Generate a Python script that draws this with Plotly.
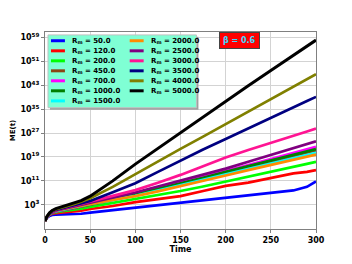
import numpy as np
import plotly.graph_objects as go

# ---- data (log10 of ME(t)) ----
time = [0, 2, 5, 8, 12, 20, 30, 40, 50, 75, 100, 125, 150, 175, 200, 225, 250, 275, 290, 300]

rm_values = [50.0, 120.0, 200.0, 450.0, 700.0, 1000.0, 1500.0,
             2000.0, 2500.0, 3000.0, 3500.0, 4000.0, 5000.0]

log_me_50 = [-2.4, -1.4, -0.7, -0.4, -0.3, -0.2, -0.1, 0.0, 0.4, 1.2, 2.0, 2.8, 3.6, 4.5, 5.3, 6.1, 6.9, 7.8, 9.0, 10.8]
log_me_120 = [-2.4, -1.3, -0.4, 0.0, 0.2, 0.4, 0.7, 1.0, 1.6, 2.6, 3.9, 4.8, 5.9, 7.6, 9.3, 10.4, 12.0, 13.5, 14.0, 14.6]
log_me_200 = [-2.4, -1.2, -0.3, 0.2, 0.5, 0.8, 1.2, 1.7, 2.3, 3.6, 5.0, 6.3, 7.6, 9.1, 10.7, 12.3, 14.0, 15.7, 16.7, 17.4]
log_me_450 = [-2.4, -1.2, -0.2, 0.3, 0.7, 1.1, 1.7, 2.3, 3.0, 4.6, 6.3, 8.1, 9.9, 11.8, 13.7, 15.6, 17.5, 19.4, 20.5, 21.2]
log_me_700 = [-2.4, -1.2, -0.2, 0.4, 0.8, 1.2, 1.8, 2.5, 3.2, 4.9, 6.6, 8.5, 10.4, 12.3, 14.3, 16.3, 18.3, 20.4, 21.6, 22.4]
log_me_1000 = [-2.4, -1.1, -0.1, 0.5, 0.9, 1.3, 1.9, 2.6, 3.3, 4.9, 6.5, 8.3, 10.1, 12.0, 14.0, 15.9, 17.8, 19.7, 20.9, 21.6]
log_me_1500 = [-2.4, -1.1, -0.1, 0.5, 0.9, 1.4, 2.0, 2.7, 3.3, 4.6, 6.0, 7.8, 9.6, 11.4, 13.3, 15.1, 17.0, 18.8, 19.8, 20.4]
log_me_2000 = [-2.4, -1.1, 0.0, 0.6, 1.0, 1.5, 2.1, 2.7, 3.3, 4.6, 5.9, 7.5, 9.2, 11.0, 12.8, 14.6, 16.4, 18.2, 19.3, 19.8]
log_me_2500 = [-2.4, -1.1, 0.0, 0.6, 1.1, 1.6, 2.3, 3.0, 3.6, 5.3, 7.1, 9.1, 11.1, 13.1, 15.1, 17.4, 19.7, 22.0, 23.4, 24.2]
log_me_3000 = [-2.4, -1.1, 0.1, 0.7, 1.2, 1.8, 2.5, 3.2, 3.9, 5.8, 7.9, 10.4, 13.0, 15.9, 18.8, 21.3, 23.6, 26.0, 27.5, 28.5]
log_me_3500 = [-2.4, -1.1, 0.1, 0.8, 1.3, 1.9, 2.7, 3.5, 4.3, 7.2, 10.2, 14.0, 17.8, 21.5, 25.0, 28.6, 32.1, 35.6, 37.7, 39.1]
log_me_4000 = [-2.4, -1.0, 0.2, 1.0, 1.5, 2.1, 3.0, 4.0, 5.2, 9.0, 13.3, 17.5, 21.7, 25.8, 30.0, 34.2, 38.4, 42.5, 45.0, 46.7]
log_me_5000 = [-2.4, -1.0, 0.3, 1.1, 1.7, 2.4, 3.3, 4.4, 5.9, 11.0, 16.6, 21.9, 27.2, 32.5, 37.7, 42.8, 47.9, 53.0, 56.1, 58.1]

series = [log_me_50, log_me_120, log_me_200, log_me_450, log_me_700, log_me_1000, log_me_1500,
          log_me_2000, log_me_2500, log_me_3000, log_me_3500, log_me_4000, log_me_5000]

colors = ["#0000ff", "#ff0000", "#00ff00", "#8b4513", "#ff00ff", "#008000", "#00ffff",
          "#ff8c00", "#800080", "#ff1493", "#000080", "#808000", "#000000"]

ytick_exp = [3, 11, 19, 27, 35, 43, 51, 59]
xtick_vals = [0, 50, 100, 150, 200, 250, 300]
beta_label = "β = 0.6"

# ---- layout geometry (pixels) ----
W, H = 352, 264
L, R, T, B = 44, 36, 32, 29
PW, PH = W - L - R, H - T - B


def px(x):
    return (x - L) / PW


def py(y):
    return (H - B - y) / PH


fig = go.Figure()
for rm, vals, col in zip(rm_values, series, colors):
    fig.add_trace(go.Scatter(
        x=time, y=[10.0 ** v for v in vals], mode="lines",
        line=dict(color=col, width=2.7 if rm != 5000.0 else 3),
        name=f"Rm = {rm}", showlegend=False))

FONT = "DejaVu Sans"
fig.update_layout(
    width=W, height=H,
    margin=dict(l=L, r=R, t=T, b=B, pad=0),
    paper_bgcolor="white", plot_bgcolor="white",
    font=dict(family=FONT, size=8, color="black"),
    xaxis=dict(range=[0, 300], tickvals=xtick_vals,
               ticktext=[str(v) for v in xtick_vals],
               tickfont=dict(family=FONT, size=8, weight="bold"),
               showgrid=True, gridcolor="#d3d3d3", gridwidth=1,
               showline=True, linecolor="#808080", linewidth=1, mirror=True,
               ticks="outside", ticklen=3, tickcolor="#808080",
               zeroline=False,
               title=dict(text="<b>Time</b>", font=dict(family=FONT, size=8), standoff=2)),
    yaxis=dict(type="log", range=[-5.1, 60.8],
               tickvals=[10.0 ** e for e in ytick_exp],
               ticktext=[f"10<sup>{e}</sup>" for e in ytick_exp],
               tickfont=dict(family=FONT, size=8, weight="bold"),
               showgrid=True, gridcolor="#d3d3d3", gridwidth=1,
               showline=True, linecolor="#808080", linewidth=1, mirror=True,
               ticks="outside", ticklen=3, tickcolor="#808080",
               zeroline=False,
               title=dict(text="<b>ME(t)</b>", font=dict(family=FONT, size=7), standoff=4)),
)

# ---- manual legend ----
shapes = []
annotations = []
lx0, ly0, lx1, ly1 = 47, 35, 196, 110
shapes.append(dict(type="rect", xref="paper", yref="paper",
                   x0=px(lx0 + 2), x1=px(lx1 + 2), y0=py(ly1 + 2), y1=py(ly0 + 2),
                   fillcolor="#a0a0a0", line=dict(width=0), layer="above"))
shapes.append(dict(type="rect", xref="paper", yref="paper",
                   x0=px(lx0), x1=px(lx1), y0=py(ly1), y1=py(ly0),
                   fillcolor="#7fffd4", line=dict(color="#c0c0c0", width=1), layer="above"))
row_y = [41, 51.4, 61.7, 72, 82.3, 92.6, 103]
for i, (rm, col) in enumerate(zip(rm_values, colors)):
    c, r = (0, i) if i < 7 else (1, i - 7)
    sx0 = 50 if c == 0 else 129
    tx = 69 if c == 0 else 148
    yy = row_y[r]
    shapes.append(dict(type="line", xref="paper", yref="paper",
                       x0=px(sx0), x1=px(sx0 + 14), y0=py(yy), y1=py(yy),
                       line=dict(color=col, width=3), layer="above"))
    annotations.append(dict(xref="paper", yref="paper", x=px(tx), y=py(yy),
                            xanchor="left", yanchor="middle", showarrow=False,
                            text=f"<b>R<sub>m</sub> = {rm}</b>",
                            font=dict(family=FONT, size=7, color="black")))

annotations.append(dict(xref="paper", yref="paper", x=px(239), y=py(40.5),
                        xanchor="center", yanchor="middle", showarrow=False,
                        text=f"<b>{beta_label}</b>", bgcolor="#ff0000",
                        bordercolor="#444444", borderwidth=1, borderpad=3,
                        font=dict(family=FONT, size=8, color="#40d8ff")))

fig.update_layout(shapes=shapes, annotations=annotations)
fig.write_html("out.html", config={"displayModeBar": False},
               post_script="document.body.style.margin='0';document.body.style.overflow='hidden';")
